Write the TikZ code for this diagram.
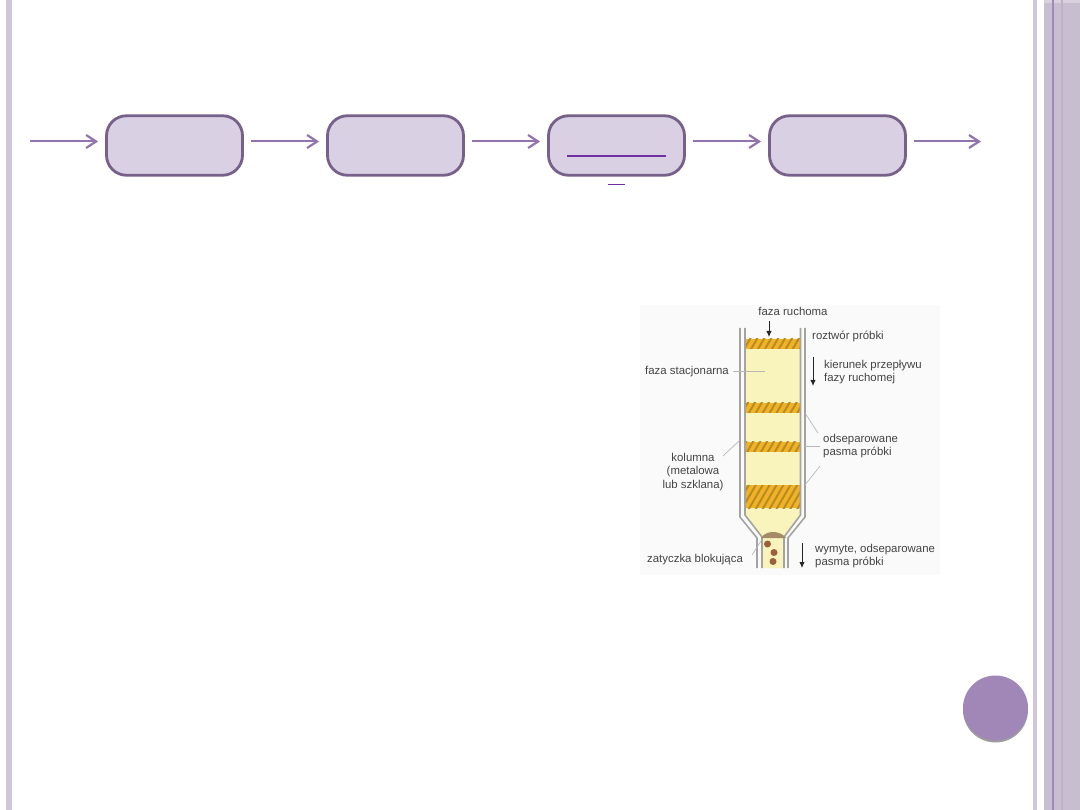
\documentclass[tikz,border=0pt]{standalone}
\usepackage{fontspec}
\setmainfont{Liberation Sans}
\usetikzlibrary{arrows.meta,patterns.meta,shadows}
\definecolor{strip}{HTML}{CFC6DC}
\definecolor{sidebar}{HTML}{C7BED0}
\definecolor{sideline}{HTML}{A088BD}
\definecolor{sidefaint}{HTML}{BDB3C9}
\definecolor{boxfill}{HTML}{D9D0E3}
\definecolor{boxline}{HTML}{776089}
\definecolor{flowline}{HTML}{9273AE}
\definecolor{linkline}{HTML}{7030A0}
\definecolor{badge}{HTML}{A087B8}
\definecolor{gel}{HTML}{F8F4BC}
\definecolor{bandfill}{HTML}{F0B323}
\definecolor{bandhatch}{HTML}{B98A2A}
\definecolor{wall}{HTML}{A3A3A0}
\definecolor{plug}{HTML}{A58A68}
\definecolor{bead}{HTML}{9C5F3C}
\definecolor{labeltext}{HTML}{444444}
\tikzset{
  x=1pt,y=-1pt,
  stepbox/.style={draw=boxline,line width=2.8pt,fill=boxfill,rounded corners=20pt,
    minimum width=136pt,minimum height=59.5pt,inner sep=0pt,outer sep=1.4pt},
  flow/.style={draw=flowline,line width=2pt,
    -{Straight Barb[length=10pt,width=13pt,line width=2.2pt]}},
  link/.style={draw=linkline,line width=2pt},
  colwall/.style={draw=wall,line width=1.6pt},
  leader/.style={draw=black!28,line width=.7pt},
  lbl/.style={font=\fontsize{11.4pt}{13.4pt}\selectfont,text=labeltext,inner sep=0pt,align=left},
  dirarrow/.style={draw=black!85,line width=1pt,-{Latex[length=6pt,width=5.5pt]}},
  band/.style={pattern={Lines[angle=60,distance=6pt,line width=2pt]},pattern color=bandhatch}
}
\begin{document}
\begin{tikzpicture}
\useasboundingbox (0,0) rectangle (1080,810);
\fill[white] (0,0) rectangle (1080,810);

% slide frame
\fill[strip] (6,0) rectangle (12,810);
\fill[strip] (1033,0) rectangle (1037,810);
\fill[sidebar] (1044,3) rectangle (1080,810);
\fill[sidebar!70!white] (1044,0) rectangle (1080,3);
\fill[sideline] (1052,0) rectangle (1054,810);
\fill[sidefaint] (1061,0) rectangle (1063,810);

% process row
\coordinate (row) at (0,141.5);
\coordinate (start) at (30,141.5);
\coordinate (finish) at (981,141.5);
\node[stepbox] (s1) at (174.5,145.5) {};
\node[stepbox] (s2) at (395.5,145.5) {};
\node[stepbox] (s3) at (616.5,145.5) {};
\node[stepbox] (s4) at (837.5,145.5) {};
\draw[flow,shorten >=7pt] (start) -- (s1.west |- row);
\draw[flow,shorten <=7pt,shorten >=7pt] (s1.east |- row) -- (s2.west |- row);
\draw[flow,shorten <=7pt,shorten >=7pt] (s2.east |- row) -- (s3.west |- row);
\draw[flow,shorten <=7pt,shorten >=7pt] (s3.east |- row) -- (s4.west |- row);
\draw[flow,shorten <=7pt] (s4.east |- row) -- (finish);
\draw[link] (567,156) -- (666,156);
\draw[link,line width=1.2pt] (608,184.5) -- (625,184.5);

% page badge
\fill[black!38] (995.5,710) circle (32.5);
\fill[badge] (995.5,708) circle (32.5);

% chromatography column
\fill[black!2] (640,305) rectangle (940,575);
\fill[gel] (745,339) -- (800.5,339) -- (800.5,515) -- (784,537) -- (784,568) -- (762,568) -- (762,537) -- (745,515) -- cycle;
\foreach \ya/\yb in {339/349,403/413,442/452,485/508}{
  \fill[bandfill] (745,\ya) rectangle (800.5,\yb);
  \fill[band] (745,\ya) rectangle (800.5,\yb);
}
\draw[colwall] (740,328) -- (740,517) -- (757,538) -- (757,568);
\draw[colwall] (745,328) -- (745,515) -- (762,537) -- (762,568);
\draw[colwall] (800.5,328) -- (800.5,515) -- (784,537) -- (784,568);
\draw[colwall] (805,328) -- (805,517) -- (788,538) -- (788,568);
\fill[plug] (761,538) .. controls (766,530) and (780,530) .. (786,538) -- cycle;
\fill[bead] (767.5,544) circle (3.5);
\fill[bead] (774,552.5) circle (3.5);
\fill[bead] (773,561.5) circle (3.5);

% leader lines
\draw[leader] (733,371) -- (765,371);
\draw[leader] (805,413) -- (818,433);
\draw[leader] (805,446) -- (820,446);
\draw[leader] (805,485) -- (820,466);
\draw[leader] (723,456) -- (740,440);
\draw[leader] (752,555) -- (761,541);

% flow direction arrows
\draw[dirarrow] (769,321) -- (769,337);
\draw[dirarrow] (813,357) -- (813,386);
\draw[dirarrow] (802,543) -- (802,568);

% labels
\node[lbl,anchor=base] (t1) at (793,316) {faza ruchoma};
\node[lbl,anchor=base west] (t2) at (812,340) {roztwór próbki};
\node[lbl,anchor=base west] (t3) at (645,375) {faza stacjonarna};
\node[lbl,anchor=west] (t4) at (824,372) {kierunek przepływu\\fazy ruchomej};
\node[lbl,anchor=west] (t5) at (823,446) {odseparowane\\pasma próbki};
\node[lbl,anchor=north,align=center] (t6) at (693,453) {kolumna\\(metalowa\\lub szklana)};
\node[lbl,anchor=base west] (t7) at (647,562) {zatyczka blokująca};
\node[lbl,anchor=west] (t8) at (815,556) {wymyte, odseparowane\\pasma próbki};
\end{tikzpicture}
\end{document}
